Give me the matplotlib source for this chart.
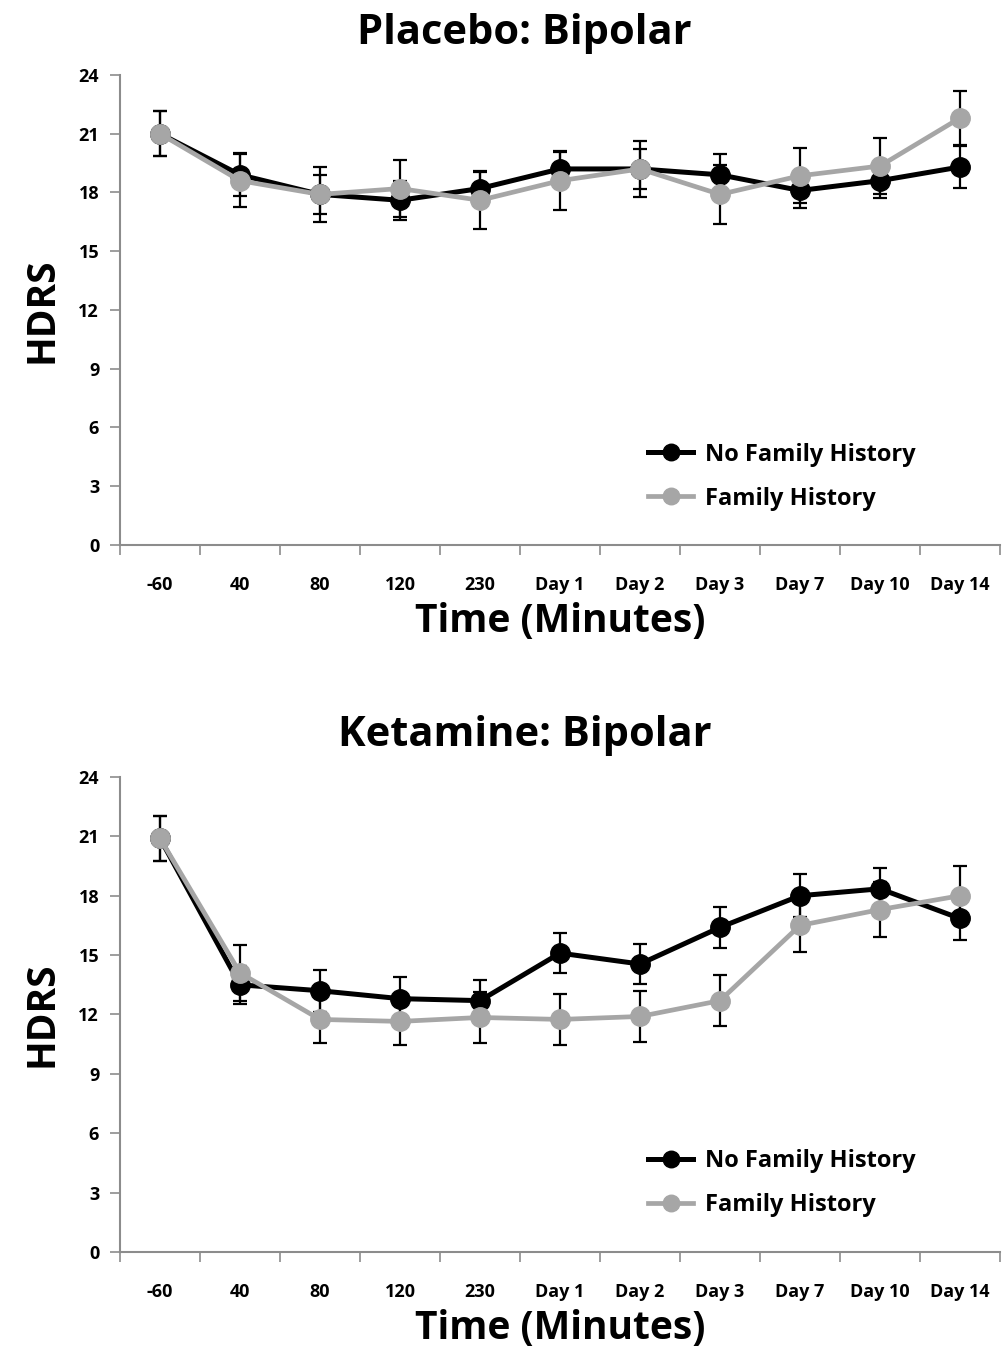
import matplotlib.pyplot as plt

plt.rcParams['font.family'] = ['Open Sans', 'DejaVu Sans']

etykiety = ['-60', '40', '80', '120', '230', 'Day 1', 'Day 2', 'Day 3', 'Day 7', 'Day 10', 'Day 14']

# Placebo
placebo_brak = [21.0, 18.9, 17.9, 17.6, 18.2, 19.2, 19.2, 18.9, 18.1, 18.6, 19.3]
placebo_brak_err = [1.15, 1.1, 1.0, 1.0, 0.9, 0.85, 1.0, 1.05, 0.9, 0.9, 1.05]
placebo_rodz = [21.0, 18.6, 17.9, 18.2, 17.6, 18.6, 19.2, 17.9, 18.85, 19.35, 21.8]
placebo_rodz_err = [1.15, 1.35, 1.4, 1.45, 1.45, 1.5, 1.45, 1.5, 1.4, 1.45, 1.4]

# Ketamina
ketamina_brak = [20.9, 13.5, 13.2, 12.8, 12.7, 15.1, 14.55, 16.4, 18.0, 18.35, 16.85]
ketamina_brak_err = [1.15, 0.95, 1.05, 1.1, 1.05, 1.0, 1.0, 1.05, 1.1, 1.05, 1.1]
ketamina_rodz = [20.9, 14.1, 11.75, 11.65, 11.85, 11.75, 11.9, 12.7, 16.5, 17.3, 18.0]
ketamina_rodz_err = [1.15, 1.4, 1.2, 1.2, 1.3, 1.3, 1.3, 1.3, 1.35, 1.4, 1.5]

szary = '#a6a6a6'
os_kolor = '#8c8c8c'

fig = plt.figure(figsize=(10.05, 13.55), dpi=100)
ax1 = fig.add_axes([0.1194, 0.5978, 0.8756, 0.3469])
ax2 = fig.add_axes([0.1194, 0.0760, 0.8756, 0.3506])


def rysuj_panel(ax, tytul, brak, brak_err, rodz, rodz_err):
    x = list(range(len(etykiety)))
    ax.errorbar(x, brak, yerr=brak_err, fmt='none', ecolor='black', elinewidth=1.6,
                capsize=5, capthick=1.6, zorder=2)
    ax.errorbar(x, rodz, yerr=rodz_err, fmt='none', ecolor='black', elinewidth=1.6,
                capsize=5, capthick=1.6, zorder=2)
    ax.plot(x, brak, color='black', linewidth=3.6, marker='o', markersize=14,
            label='No Family History', zorder=3)
    ax.plot(x, rodz, color=szary, linewidth=3.4, marker='o', markersize=14,
            label='Family History', zorder=4)

    ax.set_xlim(-0.5, len(etykiety) - 0.5)
    ax.set_ylim(0, 24)
    ax.set_yticks(range(0, 25, 3))
    ax.set_xticks(x)
    ax.set_xticklabels(etykiety, fontsize=13, fontweight='bold')
    ax.set_xticks([i - 0.5 for i in range(len(etykiety) + 1)], minor=True)
    ax.tick_params(axis='x', which='major', length=0, pad=22)
    ax.tick_params(axis='x', which='minor', length=7, color=os_kolor, width=1.2)
    ax.tick_params(axis='y', length=7, color=os_kolor, width=1.2, labelsize=13, pad=8)
    for lab in ax.get_yticklabels():
        lab.set_fontweight('bold')

    for s in ['top', 'right']:
        ax.spines[s].set_visible(False)
    for s in ['left', 'bottom']:
        ax.spines[s].set_color(os_kolor)
        ax.spines[s].set_linewidth(1.5)

    ax.set_title(tytul, fontsize=30, fontweight='bold', pad=22, x=0.46)
    ax.set_ylabel('HDRS', fontsize=28, fontweight='bold', labelpad=12)
    ax.set_xlabel('Time (Minutes)', fontsize=28, fontweight='bold', labelpad=6)

    ax.legend(loc='lower left', bbox_to_anchor=(0.576, 0.028), frameon=False,
              prop={'weight': 'bold', 'size': 17}, handlelength=1.9,
              labelspacing=0.85, handletextpad=0.5, markerscale=0.85)


rysuj_panel(ax1, 'Placebo: Bipolar', placebo_brak, placebo_brak_err, placebo_rodz, placebo_rodz_err)
rysuj_panel(ax2, 'Ketamine: Bipolar', ketamina_brak, ketamina_brak_err, ketamina_rodz, ketamina_rodz_err)

fig.savefig('out.png', dpi=100)
